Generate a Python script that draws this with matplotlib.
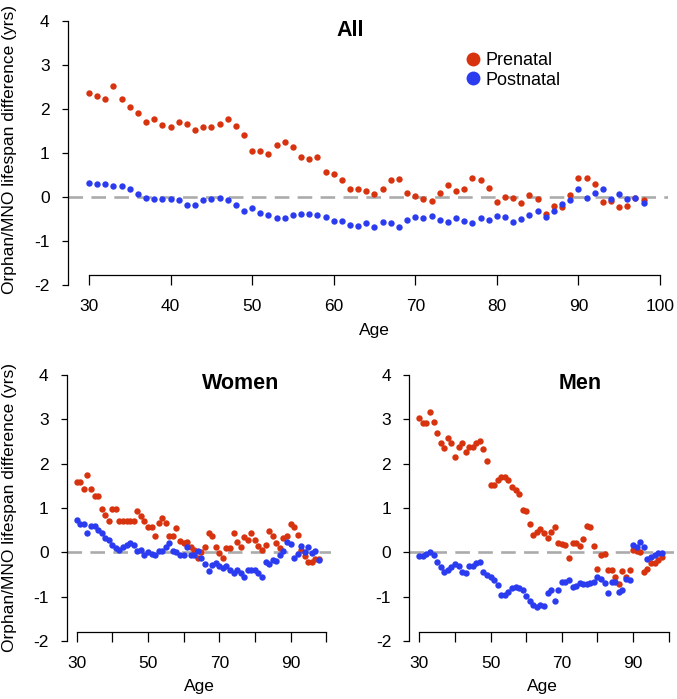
import matplotlib
matplotlib.use('Agg')
import matplotlib.pyplot as plt

plt.rcParams['font.family'] = ['Liberation Sans', 'DejaVu Sans']
plt.rcParams['lines.scale_dashes'] = False

# Data (one point per year of age)
ages = list(range(30, 99))

all_pre = [2.36, 2.28, 2.22, 2.51, 2.23, 2.03, 1.90, 1.70, 1.77, 1.64,
           1.58, 1.71, 1.65, 1.53, 1.59, 1.59, 1.65, 1.77, 1.61, 1.40,
           1.04, 1.04, 0.98, 1.18, 1.24, 1.13, 0.91, 0.85, 0.90, 0.57,
           0.51, 0.38, 0.18, 0.17, 0.14, 0.07, 0.17, 0.39, 0.40, 0.10,
           0.02, -0.05, -0.09, 0.08, 0.26, 0.14, 0.17, 0.43, 0.39, 0.21,
           -0.11, -0.01, -0.02, -0.14, 0.05, -0.05, -0.39, -0.21, -0.24, 0.05,
           0.43, 0.44, 0.29, -0.12, -0.09, -0.24, -0.21, -0.02, -0.08]
all_post = [0.32, 0.29, 0.29, 0.24, 0.24, 0.17, 0.06, -0.02, -0.04, -0.04,
            -0.04, -0.08, -0.18, -0.18, -0.07, -0.05, -0.02, -0.07, -0.19, -0.31,
            -0.25, -0.36, -0.41, -0.48, -0.49, -0.42, -0.38, -0.39, -0.41, -0.45,
            -0.54, -0.54, -0.64, -0.66, -0.59, -0.68, -0.58, -0.60, -0.68, -0.52,
            -0.45, -0.47, -0.43, -0.53, -0.57, -0.49, -0.54, -0.59, -0.49, -0.52,
            -0.44, -0.46, -0.57, -0.50, -0.40, -0.33, -0.45, -0.33, -0.17, -0.07,
            0.19, -0.02, 0.08, 0.17, -0.05, 0.07, -0.04, -0.02, -0.14]

women_pre = [1.59, 1.59, 1.42, 1.74, 1.43, 1.28, 1.28, 0.98, 0.84, 0.70,
             0.97, 0.97, 0.70, 0.70, 0.70, 0.70, 0.70, 0.94, 0.83, 0.70,
             0.58, 0.58, 0.36, 0.67, 0.77, 0.67, 0.36, 0.36, 0.54, 0.26,
             0.20, 0.23, 0.13, 0.05, -0.14, 0.00, 0.13, 0.43, 0.37, 0.13,
             -0.01, -0.14, 0.09, 0.09, 0.43, 0.24, 0.13, 0.34, 0.27, 0.43,
             0.27, 0.14, 0.05, 0.16, 0.49, 0.37, 0.20, 0.10, 0.32, 0.36,
             0.65, 0.57, 0.38, 0.05, -0.08, -0.22, -0.22, -0.15, -0.16]
women_post = [0.72, 0.65, 0.65, 0.44, 0.60, 0.60, 0.50, 0.43, 0.33, 0.28,
              0.17, 0.09, 0.06, 0.12, 0.17, 0.22, 0.16, 0.04, 0.06, -0.06,
              0.00, -0.03, -0.07, 0.04, 0.04, 0.12, 0.20, 0.02, 0.00, -0.06,
              -0.06, 0.11, -0.06, -0.06, 0.02, -0.14, -0.27, -0.43, -0.28, -0.25,
              -0.32, -0.36, -0.32, -0.40, -0.47, -0.40, -0.47, -0.56, -0.41, -0.41,
              -0.41, -0.46, -0.55, -0.23, -0.26, -0.17, -0.19, -0.06, 0.04, 0.24,
              0.18, -0.14, -0.03, 0.15, 0.00, 0.13, -0.02, 0.02, -0.18]

men_pre = [3.04, 2.91, 2.91, 3.17, 2.93, 2.70, 2.46, 2.35, 2.57, 2.46,
           2.14, 2.38, 2.47, 2.27, 2.38, 2.38, 2.47, 2.51, 2.33, 2.07,
           1.52, 1.52, 1.63, 1.71, 1.71, 1.63, 1.48, 1.41, 1.31, 0.95,
           0.94, 0.65, 0.40, 0.46, 0.52, 0.43, 0.32, 0.46, 0.57, 0.22,
           0.18, 0.17, -0.14, 0.22, 0.22, 0.14, 0.31, 0.60, 0.57, 0.14,
           -0.37, -0.05, -0.04, -0.41, -0.41, -0.56, -0.71, -0.43, -0.56, -0.39,
           0.05, 0.04, 0.00, -0.44, -0.37, -0.24, -0.24, -0.18, -0.10]
men_post = [-0.08, -0.08, -0.03, 0.00, -0.06, -0.22, -0.34, -0.44, -0.40, -0.33,
            -0.26, -0.32, -0.44, -0.46, -0.30, -0.30, -0.25, -0.21, -0.45, -0.52,
            -0.55, -0.62, -0.74, -0.96, -0.96, -0.89, -0.80, -0.78, -0.81, -0.85,
            -0.98, -1.10, -1.19, -1.23, -1.19, -1.21, -0.93, -0.84, -1.09, -0.85,
            -0.66, -0.66, -0.63, -0.78, -0.76, -0.69, -0.72, -0.72, -0.69, -0.66,
            -0.56, -0.61, -0.70, -0.93, -0.66, -0.66, -0.89, -0.84, -0.61, -0.63,
            0.17, 0.12, 0.24, 0.12, -0.16, -0.10, -0.06, -0.01, -0.01]

RED = '#D8330F'
BLUE = '#2B3CF0'
GREY = '#ABABAB'

W, H = 677, 699
fig = plt.figure(figsize=(W / 100, H / 100), dpi=100)


def px_rect(x0, x1, y_top, y_bot):
    return [x0 / W, 1 - y_bot / H, (x1 - x0) / W, (y_bot - y_top) / H]


def panel(rect, xlim, ylim, pre, post, xticks, xticklabels, xaxis_shift):
    ax = fig.add_axes(rect)
    ax.set_xlim(xlim)
    ax.set_ylim(ylim)
    ax.axhline(0, color=GREY, lw=1.9, dashes=(10.5, 6), zorder=1)
    ax.plot(ages, pre, 'o', color=RED, ms=4.6, mew=0, clip_on=False, zorder=3)
    ax.plot(ages, post, 'o', color=BLUE, ms=4.6, mew=0, clip_on=False, zorder=3)
    for s in ['top', 'right']:
        ax.spines[s].set_visible(False)
    ax.spines['left'].set_bounds(-2, 4)
    ax.spines['bottom'].set_bounds(30, 100)
    ax.spines['bottom'].set_position(('data', -2 + xaxis_shift))
    for s in ['left', 'bottom']:
        ax.spines[s].set_linewidth(0.9)
    ax.set_yticks([-2, -1, 0, 1, 2, 3, 4])
    ax.set_yticklabels(['-2', '-1', '0', '1', '2', '3', '4'])
    ax.set_xticks(xticks)
    ax.set_xticklabels(xticklabels)
    ax.tick_params(axis='y', direction='out', length=4, width=0.9,
                   labelsize=12.5, pad=9)
    ax.tick_params(axis='x', direction='out', length=7.2, width=0.9,
                   labelsize=12.5, pad=10)
    return ax


# top panel: All
ax1 = panel(px_rect(67.8, 668.1, 7.5, 285), (27.4, 101), (-2, 4.3),
            all_pre, all_post, [30, 40, 50, 60, 70, 80, 90, 100],
            ['30', '40', '50', '60', '70', '80', '90', '100'], 0.227)
ax1.plot([], [], 'o', color=RED, ms=10, mew=0, label='Prenatal')
ax1.plot([], [], 'o', color=BLUE, ms=10, mew=0, label='Postnatal')
ax1.legend(loc='upper left', bbox_to_anchor=((462 - 67.8) / (668.1 - 67.8), 1 - (52 - 7.5) / 277.5),
           frameon=False, fontsize=13, handletextpad=0.1, labelspacing=0.15,
           handlelength=1.2, borderaxespad=0, borderpad=0)

fig.text(350 / W, 1 - 31 / H, 'All', ha='center', va='center',
         fontsize=15.5, fontweight='bold')
fig.text(374.5 / W, 1 - 330 / H, 'Age', ha='center', va='center', fontsize=12.5)
fig.text(10 / W, 1 - 150 / H, 'Orphan/MNO lifespan difference (yrs)',
         rotation=90, ha='center', va='center', fontsize=12.5)

# bottom panels: Women and Men
bticks = [30, 40, 50, 60, 70, 80, 90, 100]
blabels = ['30', '', '50', '', '70', '', '90', '']
ax2 = panel(px_rect(66.7, 66.7 + 74.2 * 3.564, 361.8, 640.9), (27.19, 101.4),
            (-2, 4.3), women_pre, women_post, bticks, blabels, 0.208)
ax3 = panel(px_rect(409.3, 409.3 + 74.2 * 3.564, 361.8, 640.9), (27.19, 101.4),
            (-2, 4.3), men_pre, men_post, bticks, blabels, 0.208)

fig.text(241 / W, 1 - 383 / H, 'Women', ha='center', va='center',
         fontsize=15.5, fontweight='bold')
fig.text(580 / W, 1 - 383 / H, 'Men', ha='center', va='center',
         fontsize=15.5, fontweight='bold')
fig.text(199 / W, 1 - 687 / H, 'Age', ha='center', va='center', fontsize=12.5)
fig.text(542 / W, 1 - 687 / H, 'Age', ha='center', va='center', fontsize=12.5)
fig.text(10 / W, 1 - 508 / H, 'Orphan/MNO lifespan difference (yrs)',
         rotation=90, ha='center', va='center', fontsize=12.5)

fig.savefig('out.png', dpi=100)
